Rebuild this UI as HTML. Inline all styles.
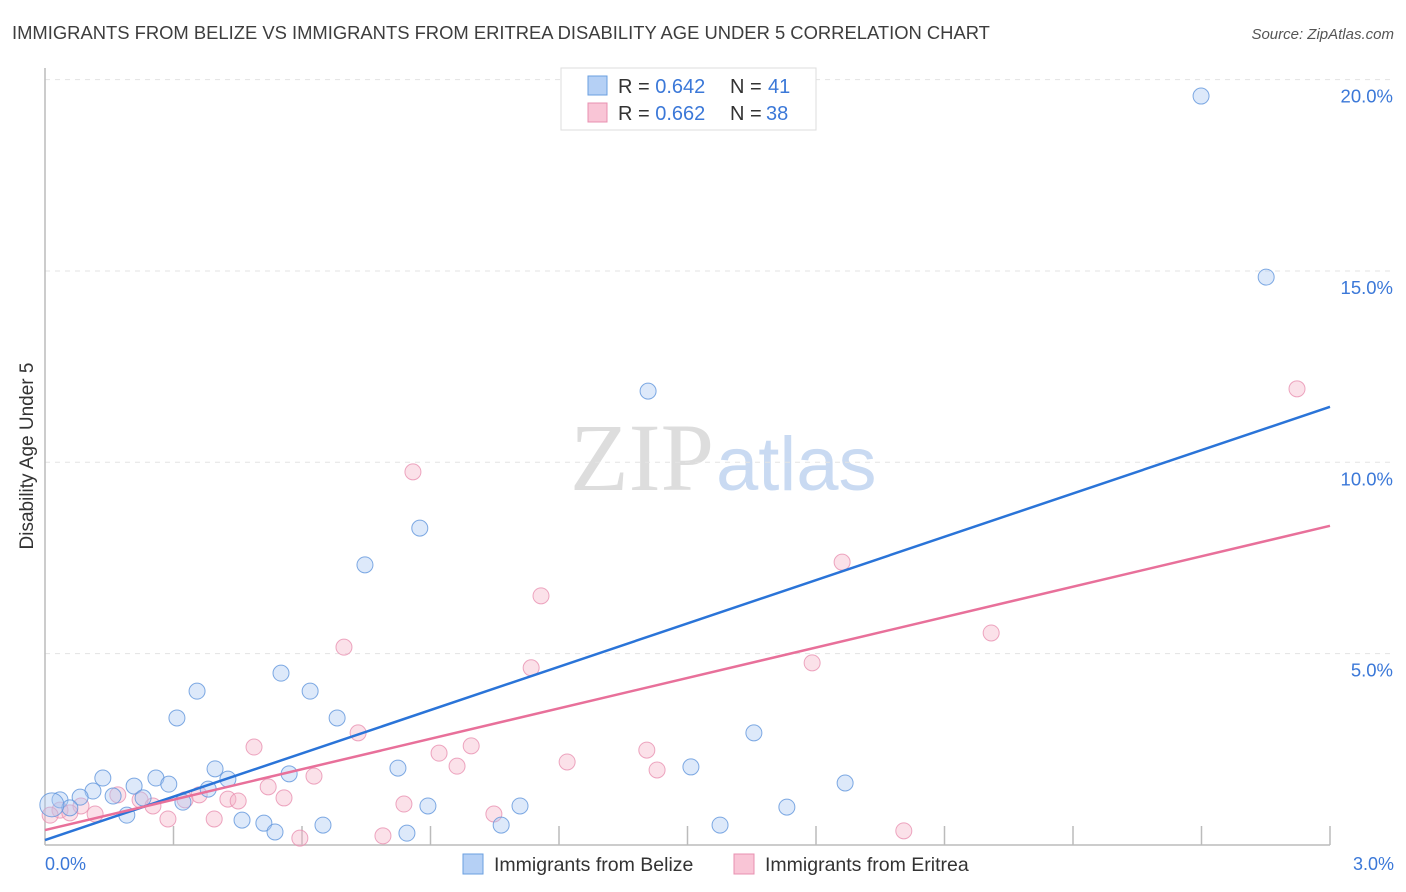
<!DOCTYPE html>
<html><head><meta charset="utf-8"><style>
body{margin:0;background:#fff;font-family:"Liberation Sans",sans-serif}
svg{display:block}
</style></head><body>
<svg id="chart" width="1406" height="892">
<text x="12" y="39" font-size="18.4" fill="#3d3d3d">IMMIGRANTS FROM BELIZE VS IMMIGRANTS FROM ERITREA DISABILITY AGE UNDER 5 CORRELATION CHART</text>
<text x="1394" y="39" font-size="15" fill="#555" font-style="italic" text-anchor="end">Source: ZipAtlas.com</text>
<text x="714" y="490" font-size="96" fill="#ddd" text-anchor="end" font-family="Liberation Serif,serif">ZIP</text>
<text x="716" y="490" font-size="76" fill="#c9daf2">atlas</text>
<g id="grid"></g>
<g id="marks"></g>
<text x="33" y="456" font-size="19" fill="#333" text-anchor="middle" transform="rotate(-90 33 456)">Disability Age Under 5</text>
<text x="45" y="870" font-size="18" fill="#3b78d8">0.0%</text>
<text x="1394" y="870" font-size="18" fill="#3b78d8" text-anchor="end">3.0%</text>
<g>
<rect x="561" y="68" width="255" height="62" fill="#fff" stroke="#ddd"/>
<rect x="588" y="76" width="19" height="19" fill="#b5d0f5" stroke="#6a9fe0"/>
<rect x="588" y="103" width="19" height="19" fill="#f9c5d6" stroke="#e890b0"/>
<text x="618" y="93" font-size="20" fill="#333">R = <tspan fill="#3b78d8">0.642</tspan><tspan x="730">N = </tspan><tspan fill="#3b78d8" x="768">41</tspan></text>
<text x="618" y="120" font-size="20" fill="#333">R = <tspan fill="#3b78d8">0.662</tspan><tspan x="730">N = </tspan><tspan fill="#3b78d8" x="766">38</tspan></text>
</g>
<g>
<rect x="463" y="854" width="20" height="20" fill="#b5d0f5" stroke="#6a9fe0"/>
<text x="494" y="871" font-size="19.5" fill="#333">Immigrants from Belize</text>
<rect x="734" y="854" width="20" height="20" fill="#f9c5d6" stroke="#e890b0"/>
<text x="765" y="871" font-size="19.5" fill="#333">Immigrants from Eritrea</text>
</g>
</svg>
<script>
const yTicks=[5,10,15,20];
const yTickLabels=["5.0%","10.0%","15.0%","20.0%"];
const xTicks=[0.3,0.6,0.9,1.2,1.5,1.8,2.1,2.4,2.7,3.0];
const belizeX=[2.699,2.851,1.408,0.875,0.747,0.551,0.619,0.355,0.308,0.682,1.655,0.135,0.259,0.208,0.289,0.397,0.427,0.570,0.824,1.508,1.868,0.112,0.082,0.159,0.229,0.322,0.381,0.035,0.058,0.191,0.460,0.511,0.537,0.649,0.845,0.894,1.065,1.109,1.576,1.732,0.016];
const belizeY=[19.57,14.84,11.86,8.28,7.32,4.49,4.02,4.02,3.32,3.32,2.93,1.75,1.75,1.54,1.59,1.99,1.72,1.86,2.01,2.04,1.62,1.41,1.25,1.28,1.23,1.12,1.46,1.18,0.97,0.78,0.65,0.57,0.34,0.52,0.31,1.02,0.52,1.02,0.52,0.99,1.05];
const eritreaX=[2.923,0.859,1.861,1.158,2.209,0.698,1.135,1.791,0.731,0.488,0.995,0.920,1.405,1.219,0.962,1.429,0.628,0.521,0.360,0.558,0.427,0.451,0.222,0.252,0.084,0.117,0.287,0.395,0.838,1.048,0.595,0.789,2.005,0.170,0.035,0.058,0.012,0.327];
const eritreaY=[11.92,9.75,7.39,6.51,5.54,5.17,4.63,4.76,2.93,2.56,2.59,2.40,2.48,2.17,2.06,1.96,1.80,1.52,1.31,1.23,1.20,1.15,1.18,1.02,1.02,0.81,0.68,0.68,1.07,0.81,0.18,0.24,0.37,1.31,0.91,0.84,0.78,1.18];
const belizeTrend=[0.13,11.45];
const eritreaTrend=[0.39,8.34];
const NS="http://www.w3.org/2000/svg";
const X=v=>45+v*428.33, Y=v=>845-v*38.27;
function mk(tag,attrs,parent){const e=document.createElementNS(NS,tag);for(const k in attrs)e.setAttribute(k,attrs[k]);parent.appendChild(e);return e;}
const grid=document.getElementById('grid'), marks=document.getElementById('marks');
yTicks.forEach((t,i)=>{
 const l=mk('line',{x1:45,x2:1395,y1:Y(t),y2:Y(t),stroke:'#e3e3e3','stroke-dasharray':'5,5'},grid);
 
 
 const tx=mk('text',{x:1393,y:Y(t)+23,'font-size':18.5,fill:'#3b78d8','text-anchor':'end'},grid);
 tx.textContent=yTickLabels[i];
 
 
});
xTicks.forEach(t=>{
 const l=mk('line',{x1:X(t),x2:X(t),y1:826,y2:845,stroke:'#bbb','stroke-width':1.5},grid);
 
 
});
const ax=mk('line',{x1:45,x2:1330,y1:845,y2:845,stroke:'#bbb','stroke-width':1.5},grid);


const ay=mk('line',{x1:45,x2:45,y1:68,y2:845,stroke:'#bbb','stroke-width':1.5},grid);


function pts(xs,ys,fill,stroke,name){xs.forEach((x,i)=>{
 const r=(i===xs.length-1&&name==='belize-point')?12:8;
 const c=mk('circle',{cx:X(x),cy:Y(ys[i]),r:r,fill:fill,'fill-opacity':0.4,stroke:stroke,'stroke-opacity':0.8,'stroke-width':1},marks);
 
 
});}
pts(eritreaX,eritreaY,'#f5b3c9','#e890b0','eritrea-point');
pts(belizeX,belizeY,'#a9c8f2','#5f95dc','belize-point');
const bl=mk('line',{x1:X(0),y1:Y(belizeTrend[0]),x2:X(3),y2:Y(belizeTrend[1]),stroke:'#2a74d8','stroke-width':2.5},marks);


const pl=mk('line',{x1:X(0),y1:Y(eritreaTrend[0]),x2:X(3),y2:Y(eritreaTrend[1]),stroke:'#e8709a','stroke-width':2.5},marks);


</script>
</body></html>
